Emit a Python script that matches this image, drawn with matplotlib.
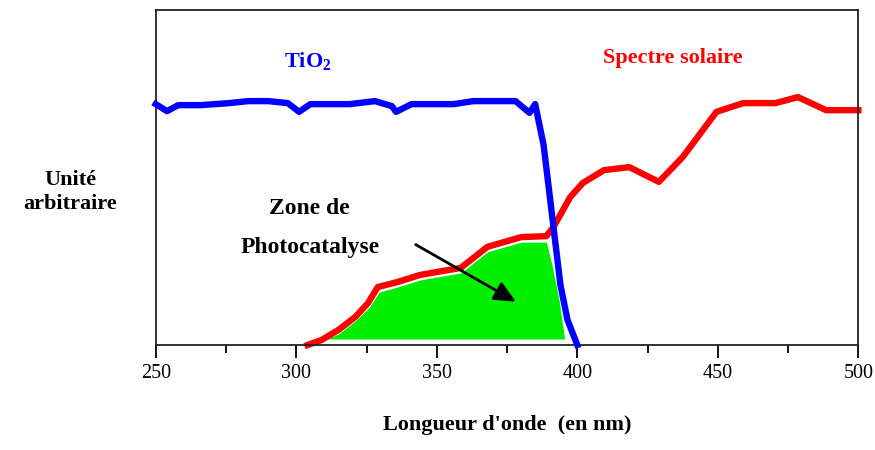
import numpy as np
import matplotlib
matplotlib.use('Agg')
import matplotlib.pyplot as plt
from matplotlib.ticker import MultipleLocator

# courbe TiO2 (absorption), unité arbitraire
tio2_nm = [250, 254, 258, 266, 276, 283, 290, 297, 301, 305, 312, 319, 328, 334,
           335.5, 341, 348, 356, 363, 372, 378, 381, 383, 385, 388, 391, 394,
           396.5, 400]
tio2_val = [71.9, 69.8, 71.6, 71.6, 72.2, 72.8, 72.8, 72.2, 69.6, 71.9, 71.9, 71.9,
            72.8, 71.3, 69.6, 71.9, 71.9, 71.9, 72.8, 72.8, 72.8, 70.7, 69.3, 71.9,
            59.7, 38.8, 17.9, 7.5, 0.0]

# spectre solaire
sol_nm = [304, 309, 315, 321, 325.5, 329, 336, 344, 350, 358.5, 368, 380, 389,
          391.5, 397.5, 402, 409.5, 418.5, 429, 437.5, 449.5, 459, 470.5, 478.5,
          488.5, 500]
sol_val = [0.0, 1.5, 4.5, 8.4, 12.5, 17.3, 18.8, 20.9, 21.8, 23.0, 29.3, 32.2, 32.5,
           35.2, 44.2, 48.4, 52.2, 53.1, 48.7, 56.1, 69.6, 72.2, 72.2, 74.0, 70.1,
           70.1]

# zone de photocatalyse (zone verte)
zone_nm = [311, 315, 321, 326, 329.5, 336, 344, 350, 358.5, 368, 380, 387.5, 389,
           391, 393.5, 395.5]
zone_top = [1.8, 3.3, 7.2, 11.3, 15.8, 17.3, 19.4, 20.3, 21.5, 27.8, 30.7, 30.7,
            30.7, 23.9, 13.4, 1.8]
zone_bottom = 1.8

plt.rcParams['font.family'] = ['Liberation Serif', 'DejaVu Serif']
plt.rcParams['mathtext.fontset'] = 'custom'
plt.rcParams['mathtext.rm'] = 'Liberation Serif:bold'

fig = plt.figure(figsize=(8.75, 4.5), dpi=100)
ax = fig.add_axes([0.178, 0.2333, 0.803, 0.7445])

ax.fill_between(zone_nm, zone_bottom, zone_top, color='#00ee00', lw=0, zorder=1)
ax.plot(sol_nm, sol_val, color='#ff0000', lw=4.6, zorder=2, clip_on=False)
ax.plot(tio2_nm, tio2_val, color='#0000ff', lw=4.6, zorder=3, clip_on=False)

ax.set_xlim(250, 500)
ax.set_ylim(0, 100)
ax.xaxis.set_major_locator(MultipleLocator(50))
ax.xaxis.set_minor_locator(MultipleLocator(25))
ax.tick_params(axis='x', which='major', direction='out', length=9.5, width=1.3,
               labelsize=14.5, pad=4)
ax.tick_params(axis='x', which='minor', direction='out', length=5.5, width=1.3)
ax.set_yticks([])
for s in ax.spines.values():
    s.set_linewidth(1.3)
    s.set_color('#222222')

ax.set_xlabel("Longueur d'onde  (en nm)", fontsize=16, fontweight='bold', labelpad=23)

ax.text(304, 84.5, r'TiO$_2$', color='#0000ff', fontsize=16, fontweight='bold',
        ha='center', va='center')
ax.text(434, 85.7, 'Spectre solaire', color='#ff0000', fontsize=16, fontweight='bold',
        ha='center', va='center')
ax.text(304.5, 40.6, 'Zone de', fontsize=17, fontweight='bold', ha='center', va='center')
ax.text(305, 29.0, 'Photocatalyse', fontsize=17, fontweight='bold', ha='center', va='center')
ax.annotate('', xy=(379, 12.5), xytext=(341.6, 30.4),
            arrowprops=dict(arrowstyle='-|>,head_length=1.3,head_width=0.6',
                            color='black', lw=2))

fig.text(0.080, 0.573, 'Unité\narbitraire', fontsize=16, fontweight='bold',
         ha='center', va='center', linespacing=1.3)

fig.savefig('out.png', dpi=100)
